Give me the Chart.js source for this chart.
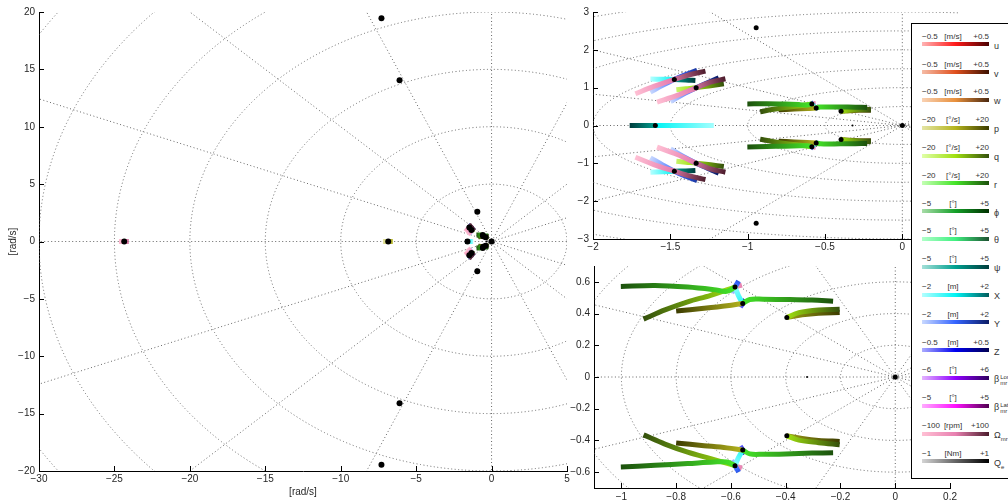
<!DOCTYPE html>
<html>
<head>
<meta charset="utf-8">
<script src="https://cdn.jsdelivr.net/npm/chart.js@4.4.1/dist/chart.umd.min.js"></script>
<style>
  body { margin:0; width:1008px; height:502px; overflow:hidden; background:#fff; position:relative;
         font-family:"Liberation Sans", Arial, sans-serif; }
  canvas { position:absolute; }
  #legendBox { position:absolute; left:911px; top:23px; width:120px; height:454px; border:1px solid #000; background:#fff; }
  .lt { position:absolute; font-size:8px; line-height:10px; color:#333; white-space:nowrap; }
  .bar { position:absolute; left:922px; width:67px; height:4px; }
  .lab { position:absolute; left:994px; font-size:9px; line-height:10px; color:#333; white-space:nowrap; }
  .lab sub { font-size:6px; }
  .ss { display:inline-block; vertical-align:middle; font-size:6px; line-height:6px; margin-left:1px; }
  .ss span { display:block; }
</style>
</head>
<body>
<canvas id="leftChart" width="575" height="502" style="left:0;top:0"></canvas>
<canvas id="topChart" width="400" height="256" style="left:560px;top:0"></canvas>
<canvas id="botChart" width="400" height="246" style="left:560px;top:256px"></canvas>
<div id="legendBox"></div>
<div id="legend"></div>
<script>
// Tick labels
const leftXTicks = [-30, -25, -20, -15, -10, -5, 0, 5];
const leftYTicks = [-20, -15, -10, -5, 0, 5, 10, 15, 20];
const topXTicks = [-2, -1.5, -1, -0.5, 0];
const topYTicks = [-3, -2, -1, 0, 1, 2, 3];
const botXTicks = [-1, -0.8, -0.6, -0.4, -0.2, 0, 0.2];
const botYTicks = [-0.6, -0.4, -0.2, 0, 0.2, 0.4, 0.6];

// Nominal poles [re, im] in rad/s
const polesFar = [[-24.35, 0], [-6.85, 0], [-7.3, 19.45], [-6.1, 14.05], [-6.1, -14.1], [-7.3, -19.45]];
const polesFast = [[-1.474, 1.217], [-1.333, 0.996], [-1.597, 0], [-1.333, -0.996], [-1.474, -1.208], [-0.945, 2.584], [-0.945, -2.584]];
const polesSlow = [[-0.585, 0.567], [-0.557, 0.464], [-0.396, 0.375], [-0.585, -0.559], [-0.557, -0.46], [-0.396, -0.371], [0, 0]];
const smallZero = [[-0.322, 0]];

// Pole trails under parameter variation [re, im]
const trFar1 = [[-24.7, 0], [-24.35, 0], [-24.05, 0]];
const trFar2 = [[-7.2, 0], [-6.85, 0], [-6.55, 0]];

const trA_X = [[-1.629, 1.226], [-1.55, 1.222], [-1.474, 1.217]];
const trA_psi = [[-1.474, 1.217], [-1.40, 1.205], [-1.338, 1.19]];
const trA_Om = [[-1.726, 0.838], [-1.607, 1.032], [-1.474, 1.217], [-1.37, 1.349], [-1.273, 1.437]];
const trA_Y = [[-1.629, 0.882], [-1.55, 1.06], [-1.474, 1.217], [-1.40, 1.345], [-1.327, 1.455]];
const trA_Z = [[-1.474, 1.217], [-1.40, 1.33], [-1.33, 1.43]];
const trB_Om = [[-1.586, 0.617], [-1.456, 0.794], [-1.333, 0.996], [-1.241, 1.146], [-1.144, 1.235]];
const trB_Y = [[-1.499, 0.635], [-1.42, 0.82], [-1.333, 0.996], [-1.26, 1.13], [-1.187, 1.261]];
const trB_q = [[-1.461, 0.944], [-1.40, 0.97], [-1.333, 0.996], [-1.24, 1.05], [-1.154, 1.102]];
const trC_X = [[-1.597, 0], [-1.40, 0], [-1.219, 0]];
const trC_Y = [[-1.597, 0], [-1.50, 0], [-1.392, 0]];
const trC_psi = [[-1.763, 0], [-1.68, 0], [-1.597, 0]];
const trA2_X = [[-1.629, -1.235], [-1.55, -1.22], [-1.474, -1.208]];
const trA2_psi = [[-1.474, -1.208], [-1.40, -1.2], [-1.338, -1.19]];
const trA2_Om = [[-1.726, -0.838], [-1.607, -1.032], [-1.474, -1.208], [-1.37, -1.34], [-1.273, -1.429]];
const trA2_Y = [[-1.629, -0.855], [-1.55, -1.04], [-1.474, -1.208], [-1.40, -1.34], [-1.327, -1.455]];
const trB2_Om = [[-1.586, -0.573], [-1.456, -0.767], [-1.333, -0.996], [-1.241, -1.146], [-1.144, -1.235]];
const trB2_Y = [[-1.499, -0.617], [-1.42, -0.81], [-1.333, -0.996], [-1.26, -1.13], [-1.187, -1.261]];
const trB2_q = [[-1.461, -0.944], [-1.40, -0.97], [-1.333, -0.996], [-1.24, -1.04], [-1.154, -1.085]];

const trE_r = [[-1.002, 0.571], [-0.877, 0.577], [-0.758, 0.567], [-0.662, 0.551], [-0.615, 0.54], [-0.585, 0.567]];
const trE_q = [[-0.919, 0.365], [-0.841, 0.423], [-0.758, 0.474], [-0.674, 0.515], [-0.585, 0.567]];
const trF_p = [[-0.8, 0.416], [-0.698, 0.433], [-0.615, 0.449], [-0.557, 0.464]];
const trF_r = [[-0.557, 0.464], [-0.531, 0.489], [-0.483, 0.491], [-0.4, 0.489], [-0.304, 0.485], [-0.227, 0.478]];
const trG_q = [[-0.396, 0.375], [-0.352, 0.406], [-0.28, 0.423], [-0.203, 0.427]];
const trG_p = [[-0.396, 0.375], [-0.34, 0.392], [-0.28, 0.402], [-0.203, 0.406]];
const trEF_X = [[-0.585, 0.567], [-0.573, 0.515], [-0.557, 0.464]];
const trE_Y = [[-0.597, 0.53], [-0.585, 0.567], [-0.572, 0.605]];
const trE_Om = [[-0.6, 0.555], [-0.585, 0.567], [-0.56, 0.58]];
const trF_Z = [[-0.566, 0.44], [-0.557, 0.464], [-0.548, 0.488]];
const trE2_r = [[-1.002, -0.567], [-0.877, -0.557], [-0.758, -0.546], [-0.662, -0.536], [-0.615, -0.536], [-0.585, -0.559]];
const trE2_q = [[-0.919, -0.365], [-0.841, -0.423], [-0.758, -0.474], [-0.674, -0.515], [-0.585, -0.559]];
const trF2_p = [[-0.8, -0.416], [-0.698, -0.433], [-0.615, -0.447], [-0.557, -0.46]];
const trF2_r = [[-0.557, -0.46], [-0.531, -0.485], [-0.483, -0.487], [-0.4, -0.485], [-0.304, -0.48], [-0.227, -0.478]];
const trG2_q = [[-0.396, -0.371], [-0.352, -0.398], [-0.28, -0.414], [-0.203, -0.427]];
const trG2_p = [[-0.396, -0.371], [-0.34, -0.388], [-0.28, -0.4], [-0.203, -0.406]];
const trEF2_X = [[-0.585, -0.559], [-0.573, -0.51], [-0.557, -0.46]];
const trE2_Y = [[-0.597, -0.525], [-0.585, -0.559], [-0.572, -0.6]];
const trE2_Om = [[-0.6, -0.548], [-0.585, -0.559], [-0.56, -0.575]];
const trF2_Z = [[-0.566, -0.436], [-0.557, -0.46], [-0.548, -0.484]];

// Legend text
const legendKeys = ['u', 'v', 'w', 'p', 'q', 'r', 'phi', 'theta', 'psi', 'X', 'Y', 'Z', 'bLon', 'bLat', 'Om', 'Qe'];
const legendLabels = ['u', 'v', 'w', 'p', 'q', 'r', 'ϕ', 'θ', 'ψ', 'X', 'Y', 'Z',
  'β<span class="ss"><span>Lon</span><span>mr</span></span>',
  'β<span class="ss"><span>Lat</span><span>mr</span></span>',
  'Ω<sub>mr</sub>', 'Q<sub>e</sub>'];
const legendUnits = ['[m/s]', '[m/s]', '[m/s]', '[°/s]', '[°/s]', '[°/s]', '[°]', '[°]', '[°]', '[m]', '[m]', '[m]', '[°]', '[°]', '[rpm]', '[Nm]'];
const legendMin = ['−0.5', '−0.5', '−0.5', '−20', '−20', '−20', '−5', '−5', '−5', '−2', '−2', '−0.5', '−6', '−5', '−100', '−1'];
const legendMax = ['+0.5', '+0.5', '+0.5', '+20', '+20', '+20', '+5', '+5', '+5', '+2', '+2', '+0.5', '+6', '+5', '+100', '+1'];

// colour maps: light (min) -> nominal -> dark (max)
const colormaps = {
  u: ['#ffb4b4', '#ff1a1a', '#4a0000'],
  v: ['#f5bba5', '#e0501e', '#3c1000'],
  w: ['#f9d2b4', '#e8903c', '#4a2810'],
  p: ['#e4e4a4', '#b4b41e', '#3c3c00'],
  q: ['#e0ffa8', '#a0e010', '#34500c'],
  r: ['#c4ffb4', '#44e428', '#1c500c'],
  phi: ['#a8dca8', '#14a028', '#003000'],
  theta: ['#b0ffc8', '#40f080', '#1c5030'],
  psi: ['#a4e0d8', '#00a090', '#003c3c'],
  X: ['#b4ffff', '#00f4f4', '#005c5c'],
  Y: ['#c8d8ff', '#3464ff', '#0c1c64'],
  Z: ['#acacff', '#0000f0', '#000050'],
  bLon: ['#e4b4ff', '#9000ff', '#300060'],
  bLat: ['#ffacff', '#ff10ff', '#500050'],
  Om: ['#ffc0d4', '#e880b0', '#4c1c2c'],
  Qe: ['#d4d4d4', '#646464', '#000000']
};

// which colour map / part of it each trail uses
const trails = [
  {pts: trFar1, map: 'Om', t: [0, 0.6]}, {pts: trFar2, map: 'p', t: [0, 0.5]},
  {pts: trA_Om, map: 'Om', t: [0, 1]}, {pts: trA_Y, map: 'Y', t: [0, 0.8]}, {pts: trA_X, map: 'X', t: [0, 0.5]},
  {pts: trA_psi, map: 'psi', t: [0.5, 1]}, {pts: trA_Z, map: 'Z', t: [0.5, 1]},
  {pts: trB_Om, map: 'Om', t: [0, 1]}, {pts: trB_Y, map: 'Y', t: [0, 1]}, {pts: trB_q, map: 'q', t: [0.2, 1]},
  {pts: trC_X, map: 'X', t: [0.5, 0.05]}, {pts: trC_Y, map: 'Y', t: [0.5, 0.2]}, {pts: trC_psi, map: 'psi', t: [1, 0.5]},
  {pts: trA2_Om, map: 'Om', t: [0, 1]}, {pts: trA2_Y, map: 'Y', t: [0, 0.8]}, {pts: trA2_X, map: 'X', t: [0, 0.5]},
  {pts: trA2_psi, map: 'psi', t: [0.5, 1]},
  {pts: trB2_Om, map: 'Om', t: [0, 1]}, {pts: trB2_Y, map: 'Y', t: [0, 1]}, {pts: trB2_q, map: 'q', t: [0.2, 1]},
  {pts: trE_r, map: 'r', t: [1, 0.5]}, {pts: trE_q, map: 'q', t: [1, 0.5]}, {pts: trF_p, map: 'p', t: [1, 0.5]},
  {pts: trF_r, map: 'r', t: [0.5, 1]}, {pts: trG_q, map: 'q', t: [0.5, 1]}, {pts: trG_p, map: 'p', t: [0.6, 1]},
  {pts: trEF_X, map: 'X', t: [0.1, 0.4]}, {pts: trE_Y, map: 'Y', t: [0.1, 0.6]}, {pts: trE_Om, map: 'Om', t: [0.1, 0.5]},
  {pts: trF_Z, map: 'Z', t: [0.2, 0.7]},
  {pts: trE2_r, map: 'r', t: [1, 0.5]}, {pts: trE2_q, map: 'q', t: [1, 0.5]}, {pts: trF2_p, map: 'p', t: [1, 0.5]},
  {pts: trF2_r, map: 'r', t: [0.5, 1]}, {pts: trG2_q, map: 'q', t: [0.5, 1]}, {pts: trG2_p, map: 'p', t: [0.6, 1]},
  {pts: trEF2_X, map: 'X', t: [0.1, 0.4]}, {pts: trE2_Y, map: 'Y', t: [0.1, 0.6]}, {pts: trE2_Om, map: 'Om', t: [0.1, 0.5]},
  {pts: trF2_Z, map: 'Z', t: [0.2, 0.7]}
];

function hexRgb(h) { return [1, 3, 5].map(i => parseInt(h.substr(i, 2), 16)); }
function cmapColor(name, t) {
  const [l, m, d] = colormaps[name].map(hexRgb);
  const a = t < 0.5 ? l : m, b = t < 0.5 ? m : d;
  const f = t < 0.5 ? t * 2 : (t - 0.5) * 2;
  const c = a.map((v, i) => Math.round(v + (b[i] - v) * f));
  return 'rgb(' + c.join(',') + ')';
}

function trailColor(chart, tr) {
  const xs = chart.scales.x, ys = chart.scales.y;
  const mid = cmapColor(tr.map, (tr.t[0] + tr.t[1]) / 2);
  if (!xs || !ys || !chart.chartArea) return mid;
  const p0 = tr.pts[0], p1 = tr.pts[tr.pts.length - 1];
  const x0 = xs.getPixelForValue(p0[0]), y0 = ys.getPixelForValue(p0[1]);
  const x1 = xs.getPixelForValue(p1[0]), y1 = ys.getPixelForValue(p1[1]);
  if (![x0, y0, x1, y1].every(isFinite) || (Math.abs(x1 - x0) + Math.abs(y1 - y0) < 0.5)) return mid;
  const g = chart.ctx.createLinearGradient(x0, y0, x1, y1);
  for (let i = 0; i <= 8; i++) {
    g.addColorStop(i / 8, cmapColor(tr.map, tr.t[0] + (tr.t[1] - tr.t[0]) * i / 8));
  }
  return g;
}

const toXY = pts => pts.map(p => ({x: p[0], y: p[1]}));
const fmt = v => (v < 0 ? '−' + Math.abs(v) : String(v));
const tickFont = {family: '"Liberation Sans", Arial, sans-serif', size: 10};

// dotted polar grid (circles + rays every 22.5 deg) in data units
const polarGrid = {
  id: 'polarGrid',
  beforeDatasetsDraw(chart, args, opts) {
    const {ctx, chartArea: a, scales: {x, y}} = chart;
    const cx = x.getPixelForValue(0), cy = y.getPixelForValue(0);
    const sx = x.getPixelForValue(1) - cx, sy = cy - y.getPixelForValue(1);
    ctx.save();
    ctx.beginPath();
    ctx.rect(a.left, a.top, a.width, a.height);
    ctx.clip();
    ctx.setLineDash([1, 2.5]);
    ctx.strokeStyle = '#666';
    ctx.lineWidth = 1;
    for (let k = 1; k * opts.step <= opts.rmax + 1e-9; k++) {
      const r = k * opts.step;
      ctx.beginPath();
      ctx.ellipse(cx, cy, r * sx, r * sy, 0, 0, Math.PI * 2);
      ctx.stroke();
    }
    for (let k = 0; k < 8; k++) {
      const ang = k * Math.PI / 8, R = opts.rmax * 2;
      ctx.beginPath();
      ctx.moveTo(cx - Math.cos(ang) * R * sx, cy + Math.sin(ang) * R * sy);
      ctx.lineTo(cx + Math.cos(ang) * R * sx, cy - Math.sin(ang) * R * sy);
      ctx.stroke();
    }
    ctx.restore();
  }
};

// matlab-style inward tick marks
const innerTicks = {
  id: 'innerTicks',
  afterDraw(chart) {
    const {ctx, chartArea: a, scales: {x, y}} = chart;
    ctx.save();
    ctx.strokeStyle = '#000';
    ctx.lineWidth = 1;
    ctx.beginPath();
    x.ticks.forEach(t => {
      const px = Math.round(x.getPixelForValue(t.value)) + 0.5;
      ctx.moveTo(px, a.bottom); ctx.lineTo(px, a.bottom - 5);
    });
    y.ticks.forEach(t => {
      const py = Math.round(y.getPixelForValue(t.value)) + 0.5;
      ctx.moveTo(a.left, py); ctx.lineTo(a.left + 5, py);
    });
    ctx.stroke();
    ctx.restore();
  }
};

function buildDatasets(dotR) {
  const ds = [];
  ds.push({data: toXY(polesFar.concat(polesFast, polesSlow)), pointRadius: dotR, pointBackgroundColor: '#000',
    pointBorderColor: '#000', pointBorderWidth: 0, showLine: false, order: -2});
  ds.push({data: toXY(smallZero), pointRadius: 1, pointBackgroundColor: '#000', pointBorderWidth: 0, showLine: false, order: -2});
  trails.forEach(tr => {
    ds.push({
      data: toXY(tr.pts), showLine: true, pointRadius: 0, borderWidth: 5, tension: 0.35,
      borderCapStyle: 'butt', borderJoinStyle: 'round',
      borderColor: ctx => trailColor(ctx.chart, tr), order: 0
    });
  });
  return ds;
}

function makeChart(id, c) {
  return new Chart(document.getElementById(id), {
    type: 'scatter',
    data: {datasets: buildDatasets(c.dotR)},
    options: {
      responsive: false, animation: false, devicePixelRatio: 1,
      layout: {autoPadding: false, padding: c.pad},
      plugins: {legend: {display: false}, tooltip: {enabled: false}, polarGrid: {step: c.step, rmax: c.rmax}},
      scales: {
        x: {
          type: 'linear', min: c.xmin, max: c.xmax,
          afterBuildTicks: s => { s.ticks = c.xticks.map(v => ({value: v})); },
          afterFit: s => { s.height = c.xh; },
          grid: {display: false, drawTicks: false},
          border: {display: true, color: '#000', width: 1},
          ticks: {font: tickFont, color: '#262626', padding: c.xpad, callback: fmt, maxRotation: 0, autoSkip: false},
          title: {display: !!c.xtitle, text: c.xtitle, font: tickFont, color: '#262626', padding: {top: 0, bottom: 4}}
        },
        y: {
          type: 'linear', min: c.ymin, max: c.ymax,
          afterBuildTicks: s => { s.ticks = c.yticks.map(v => ({value: v})); },
          afterFit: s => { s.width = c.yw; },
          grid: {display: false, drawTicks: false},
          border: {display: true, color: '#000', width: 1},
          ticks: {font: tickFont, color: '#262626', padding: 4, callback: fmt, autoSkip: false},
          title: {display: !!c.ytitle, text: c.ytitle, font: tickFont, color: '#262626', padding: {top: 7, bottom: 0}}
        }
      }
    },
    plugins: [polarGrid, innerTicks]
  });
}

makeChart('leftChart', {xmin: -30, xmax: 5, ymin: -20, ymax: 20, xticks: leftXTicks, yticks: leftYTicks,
  pad: {top: 12, right: 8, left: 0, bottom: 0}, xh: 31, yw: 39, xpad: 2, step: 5, rmax: 40, dotR: 3,
  xtitle: '[rad/s]', ytitle: '[rad/s]'});
makeChart('topChart', {xmin: -2, xmax: 0.36, ymin: -3, ymax: 3, xticks: topXTicks, yticks: topYTicks,
  pad: {top: 12, right: 2, left: 0, bottom: 0}, xh: 17, yw: 33, xpad: 2, step: 0.5, rmax: 4, dotR: 2.5});
makeChart('botChart', {xmin: -1.1, xmax: 0.2, ymin: -0.7, ymax: 0.7, xticks: botXTicks, yticks: botYTicks,
  pad: {top: 7, right: 2, left: 0, bottom: 0}, xh: 14, yw: 34, xpad: 3, step: 0.2, rmax: 1.4, dotR: 2.5});

// legend with colour bars
const legendEl = document.getElementById('legend');
legendKeys.forEach((k, i) => {
  const ty = 36.7 + 27.8 * i;
  const cm = colormaps[k];
  let html = '';
  html += '<div class="lt" style="left:922px;top:' + (ty - 5) + 'px">' + legendMin[i] + '</div>';
  html += '<div class="lt" style="left:953px;top:' + (ty - 5) + 'px;transform:translateX(-50%)">' + legendUnits[i] + '</div>';
  html += '<div class="lt" style="left:989px;top:' + (ty - 5) + 'px;transform:translateX(-100%)">' + legendMax[i] + '</div>';
  html += '<div class="bar" style="top:' + (ty + 5.7) + 'px;background:linear-gradient(to right,' + cm[0] + ',' + cm[1] + ',' + cm[2] + ')"></div>';
  html += '<div class="lab" style="top:' + (ty + 4) + 'px">' + legendLabels[i] + '</div>';
  legendEl.insertAdjacentHTML('beforeend', html);
});
</script>
</body>
</html>
